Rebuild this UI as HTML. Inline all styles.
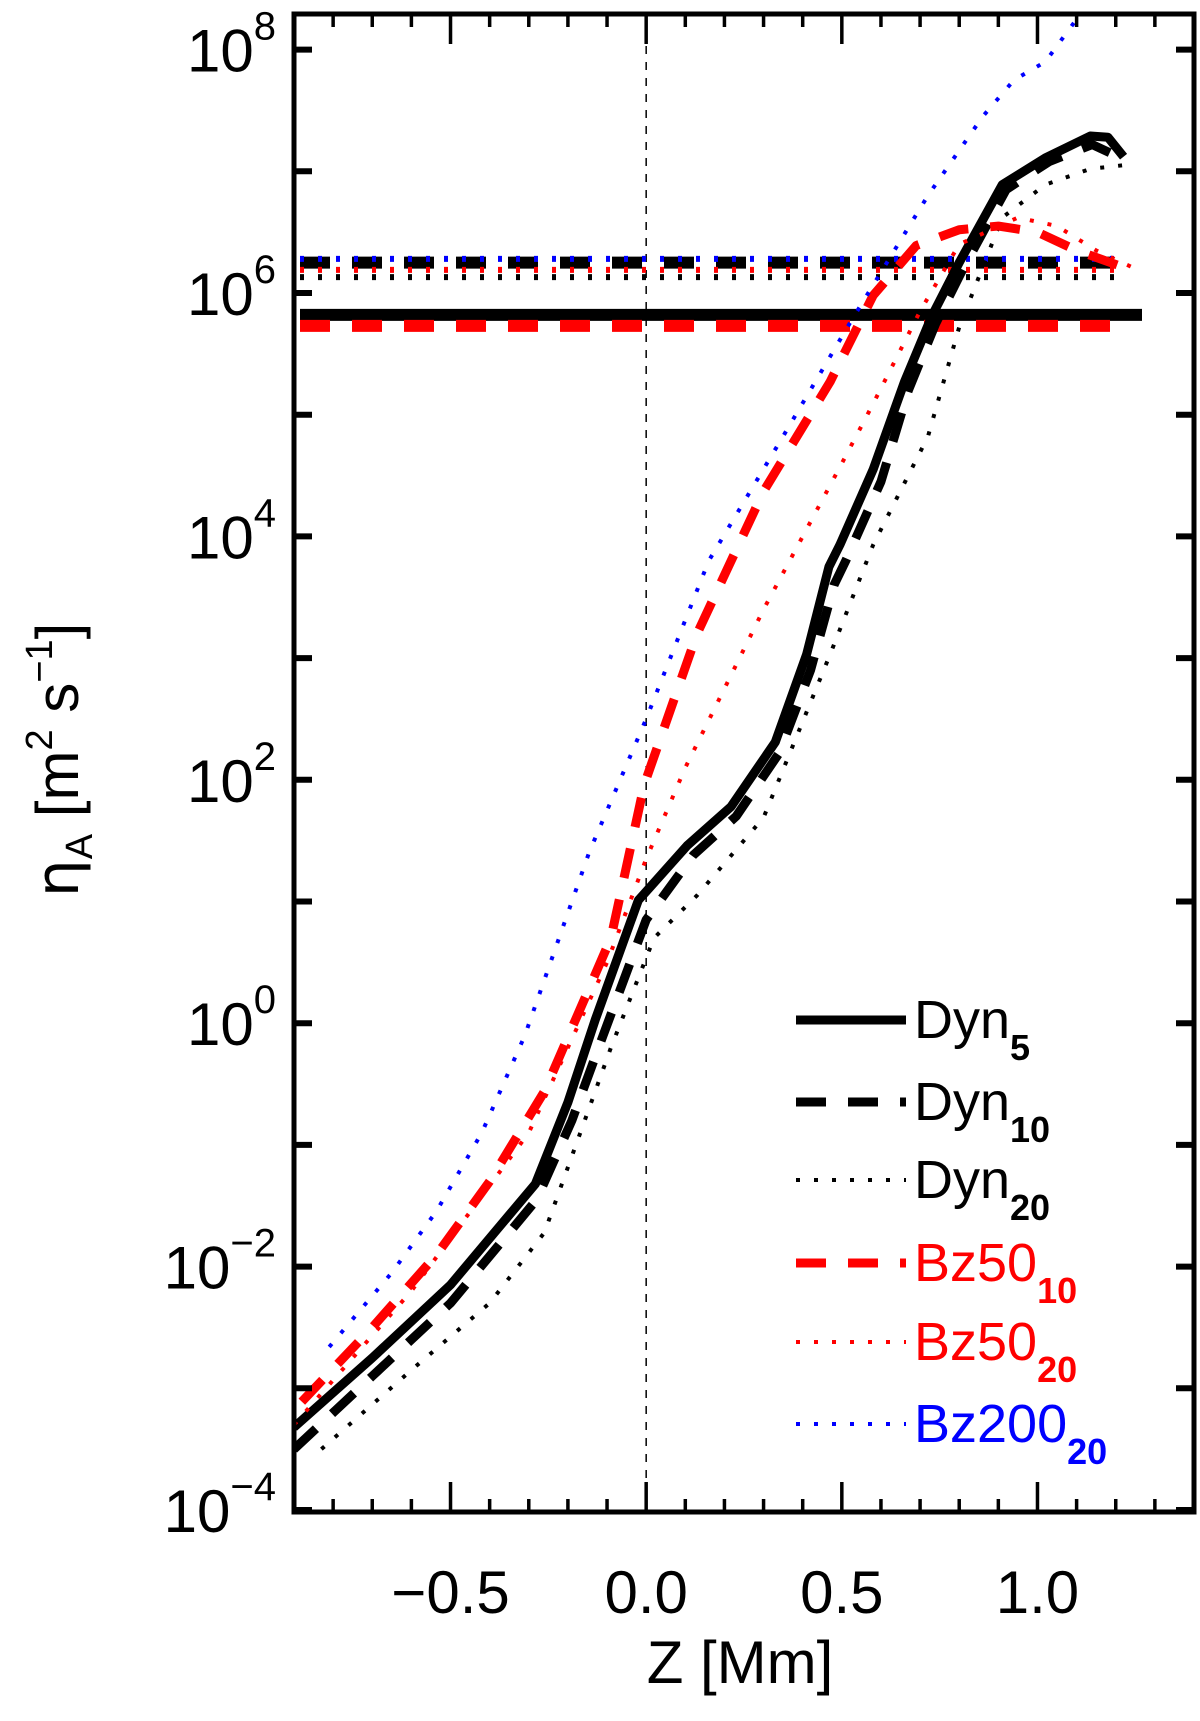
<!DOCTYPE html>
<html><head><meta charset="utf-8"><style>
html,body{margin:0;padding:0;background:#fff}
svg{display:block;font-family:"Liberation Sans",sans-serif}
</style></head><body>
<svg id="chart" width="1200" height="1721" viewBox="0 0 1200 1721" xmlns="http://www.w3.org/2000/svg"></svg>
<script>
const dyn5Z=[-0.9,-0.7,-0.5,-0.283,-0.2,-0.13,-0.02,0.105,0.217,0.33,0.41,0.467,0.495,0.58,0.66,0.73,0.8,0.91,1.02,1.135,1.18,1.22];
const dyn5V=[-3.32,-2.75,-2.15,-1.32,-0.65,0.03,1.01,1.46,1.78,2.31,3.03,3.75,3.93,4.55,5.27,5.81,6.25,6.89,7.11,7.29,7.28,7.12];
const dyn10Z=[-0.9,-0.7,-0.5,-0.28,-0.19,-0.11,0.0,0.12,0.23,0.34,0.42,0.48,0.51,0.6,0.67,0.74,0.81,0.92,1.03,1.14,1.22];
const dyn10V=[-3.5,-2.9,-2.3,-1.45,-0.8,-0.1,0.85,1.38,1.7,2.22,2.9,3.6,3.8,4.45,5.2,5.75,6.2,6.85,7.08,7.22,7.1];
const dyn20Z=[-0.83,-0.6,-0.4,-0.26,-0.09,0.02,0.13,0.3,0.47,0.58,0.72,0.8,0.91,1.02,1.135,1.22];
const dyn20V=[-3.5,-2.85,-2.3,-1.72,-0.2,0.7,1.05,1.69,3.03,3.93,4.82,5.72,6.62,6.89,7.02,7.05];
const bz5010Z=[-0.88,-0.7,-0.535,-0.4,-0.26,-0.09,-0.005,0.13,0.3,0.47,0.58,0.69,0.8,0.9,1.0,1.1,1.23];
const bz5010V=[-3.11,-2.5,-1.9,-1.3,-0.56,0.7,1.96,3.2,4.37,5.27,5.98,6.39,6.52,6.55,6.5,6.35,6.2];
const bz5020Z=[-0.9,-0.6,-0.3,-0.1,0.0,0.1,0.3,0.5,0.58,0.7,0.8,0.95,1.05,1.15,1.25];
const bz5020V=[-3.3,-2.2,-0.9,0.5,1.35,2.1,3.4,4.6,5.09,5.85,6.4,6.62,6.55,6.35,6.2];
const bz200Z=[-0.81,-0.65,-0.535,-0.42,-0.31,-0.145,0.0,0.16,0.355,0.52,0.72,0.86,0.94,1.02,1.1,1.2];
const bz200V=[-2.66,-2.05,-1.54,-0.9,-0.1,1.41,2.5,3.8,4.85,5.75,6.8,7.45,7.75,7.9,8.25,8.6];
const hlineNames=["hline-dyn5","hline-bz50-10","hline-dyn10","hline-bz200-20","hline-bz50-20","hline-dyn20"];
const hlineV=[5.82,5.73,6.25,6.28,6.19,6.13];
const xTicks=[-0.5,0.0,0.5,1.0];
const xTickLabels=["\u22120.5","0.0","0.5","1.0"];
const yTicks=[-4,-2,0,2,4,6,8];
const yTickLabels=["\u22124","\u22122","0","2","4","6","8"];
const legendLabels=["Dyn","Dyn","Dyn","Bz50","Bz50","Bz200"];
const legendSubs=["5","10","20","10","20","20"];

const L=294,R=1194,T=14,B=1512;
const X=z=>L+(z+0.9)/2.3*(R-L);
const Y=v=>293+(6-v)*121.7;
const NS="http://www.w3.org/2000/svg";
const svg=document.getElementById('chart');
function mk(tag,attrs,parent){const e=document.createElementNS(NS,tag);for(const k in attrs)e.setAttribute(k,attrs[k]);(parent||svg).appendChild(e);return e;}
const defs=mk('defs',{});
const cp=mk('clipPath',{id:'clip'},defs);mk('rect',{x:L,y:T,width:R-L,height:B-T},cp);
const styles=[
 {c:'#000',w:9,d:''},
 {c:'#000',w:9,d:'30 22'},
 {c:'#000',w:4,d:'4 14'},
 {c:'#f00',w:9,d:'30 22'},
 {c:'#f00',w:4,d:'4 14'},
 {c:'#00f',w:4,d:'4 14'}];
const g=mk('g',{'clip-path':'url(#clip)'});


const zl=mk('line',{x1:X(0),x2:X(0),y1:T,y2:B,stroke:'#000','stroke-width':1.5,'stroke-dasharray':'8 8'},g);


const hStyles=[0,3,1,5,4,2];
const hEnds=[1142,1130,1127,1127,1127,1127];
hlineV.forEach((v,i)=>{const s=styles[hStyles[i]];
 const l=mk('line',{x1:300,x2:hEnds[i],y1:Y(v),y2:Y(v),stroke:s.c,'stroke-width':s.w==9?12:6,'stroke-dasharray':s.d},g);
 
 });
const series=[[dyn5Z,dyn5V,'dyn5'],[dyn10Z,dyn10V,'dyn10'],[dyn20Z,dyn20V,'dyn20'],[bz5010Z,bz5010V,'bz50-10'],[bz5020Z,bz5020V,'bz50-20'],[bz200Z,bz200V,'bz200-20']];
series.forEach((s,i)=>{const st=styles[i];
 const p=mk('polyline',{points:s[0].map((z,j)=>X(z)+','+Y(s[1][j])).join(' '),fill:'none',stroke:st.c,'stroke-width':st.w,'stroke-dasharray':st.d,'stroke-linejoin':'round'},g);
 
 });
const fr=mk('rect',{x:L,y:T,width:R-L,height:B-T,fill:'none',stroke:'#000','stroke-width':5});


for(let k=-8;k<=13;k++){const z=k/10,x=X(z),maj=Math.abs(k%5)==0,len=maj?30:13;
 mk('line',{x1:x,x2:x,y1:B,y2:B-len,stroke:'#000','stroke-width':3.5});
 mk('line',{x1:x,x2:x,y1:T,y2:T+len,stroke:'#000','stroke-width':3.5});}
xTicks.forEach((z,i)=>{const t=mk('text',{x:X(z),y:1613,'font-size':60,'text-anchor':'middle'});t.textContent=xTickLabels[i];
 
 });
for(let v=-4;v<=8;v++){const y=Y(v);
 mk('line',{x1:L,x2:L+18,y1:y,y2:y,stroke:'#000','stroke-width':6});
 mk('line',{x1:R,x2:R-18,y1:y,y2:y,stroke:'#000','stroke-width':6});}
yTicks.forEach((v,i)=>{const t=mk('text',{x:276,y:Y(v)+22,'font-size':60,'text-anchor':'end'});
 t.textContent='10';const s=mk('tspan',{dy:-32,'font-size':40},t);s.textContent=yTickLabels[i];
 
 });
const xt=mk('text',{x:740,y:1683,'font-size':60,'text-anchor':'middle'});xt.textContent='Z [Mm]';


const yt=mk('text',{transform:'translate(78,760) rotate(-90)','font-size':60,'text-anchor':'middle'});
yt.innerHTML='<tspan font-family="DejaVu Sans">η</tspan><tspan font-size="38" dy="14">A</tspan><tspan dy="-14"> [m</tspan><tspan font-size="38" dy="-26">2</tspan><tspan dy="26"> s</tspan><tspan font-size="38" dy="-26">−1</tspan><tspan dy="26">]</tspan>';


const legY=[1020,1102,1180,1263,1342,1424];
legendLabels.forEach((lab,i)=>{const st=styles[i];const y=legY[i];
 const lg=mk('g',{});
 
 
 mk('line',{x1:796,x2:906,y1:y,y2:y,stroke:st.c,'stroke-width':st.w,'stroke-dasharray':st.d},lg);
 const t=mk('text',{x:914,y:y+18,'font-size':54,fill:st.c},lg);t.textContent=lab;
 const s=mk('tspan',{dy:22,'font-size':36,'font-weight':'bold'},t);s.textContent=legendSubs[i];});
</script>
</body></html>
